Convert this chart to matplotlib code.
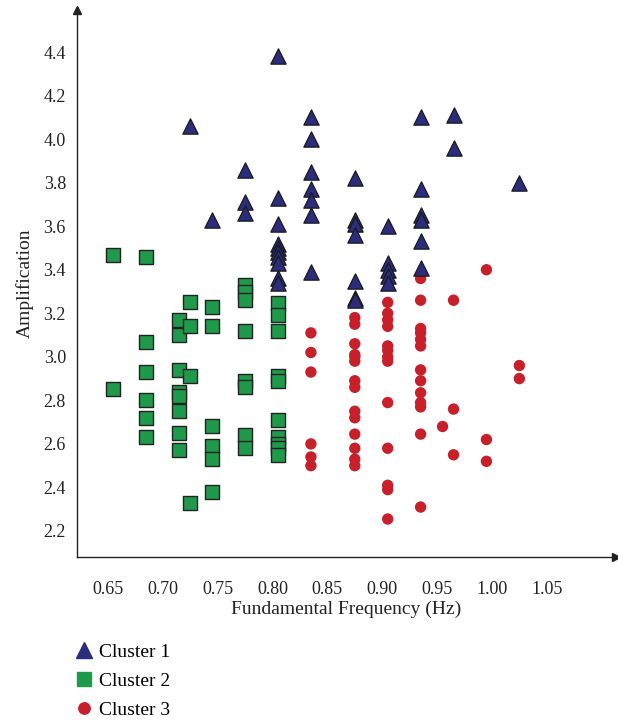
import numpy as np
import matplotlib
matplotlib.use("Agg")
import matplotlib.pyplot as plt
from matplotlib.lines import Line2D

plt.rcParams["font.family"] = ["Liberation Serif", "DejaVu Serif"]

# Cluster 1 (triangles)
c1_freq = [0.725, 0.745,
           0.775, 0.775, 0.775,
           0.805, 0.805, 0.805, 0.805, 0.805, 0.805, 0.805, 0.805, 0.805, 0.805,
           0.835, 0.835, 0.835, 0.835, 0.835, 0.835, 0.835,
           0.875, 0.875, 0.875, 0.875, 0.875, 0.875, 0.875,
           0.905, 0.905, 0.905, 0.905, 0.905,
           0.935, 0.935, 0.935, 0.935, 0.935, 0.935,
           0.965, 0.965,
           1.025]
c1_amp = [4.06, 3.63,
          3.86, 3.71, 3.66,
          4.38, 3.73, 3.61, 3.52, 3.50, 3.48, 3.46, 3.43, 3.36, 3.34,
          4.10, 4.00, 3.85, 3.77, 3.72, 3.65, 3.39,
          3.82, 3.63, 3.61, 3.56, 3.35, 3.27, 3.26,
          3.60, 3.43, 3.40, 3.37, 3.34,
          4.10, 3.77, 3.65, 3.63, 3.53, 3.41,
          4.11, 3.96,
          3.80]

# Cluster 2 (squares)
c2_freq = [0.655, 0.655,
           0.685, 0.685, 0.685, 0.685, 0.685, 0.685,
           0.715, 0.715, 0.715, 0.715, 0.715, 0.715, 0.715, 0.715,
           0.725, 0.725, 0.725, 0.725,
           0.745, 0.745, 0.745, 0.745, 0.745, 0.745,
           0.775, 0.775, 0.775, 0.775, 0.775, 0.775, 0.775, 0.775,
           0.805, 0.805, 0.805, 0.805, 0.805, 0.805, 0.805, 0.805, 0.805, 0.805]
c2_amp = [3.47, 2.85,
          3.46, 3.07, 2.93, 2.80, 2.72, 2.63,
          3.17, 3.10, 2.94, 2.84, 2.82, 2.75, 2.65, 2.57,
          3.25, 3.14, 2.91, 2.33,
          3.23, 3.14, 2.68, 2.59, 2.53, 2.38,
          3.33, 3.30, 3.26, 3.12, 2.89, 2.86, 2.64, 2.58,
          3.245, 3.19, 3.12, 2.91, 2.89, 2.71, 2.63, 2.60, 2.58, 2.55]

# Cluster 3 (circles)
c3_freq = [0.835] * 6 + [0.875] * 14 + [0.905] * 13 + [0.935] * 13 + [0.955] \
          + [0.965] * 3 + [0.995] * 3 + [1.025] * 2
c3_amp = [3.11, 3.02, 2.93, 2.60, 2.54, 2.50,
          3.18, 3.15, 3.06, 3.01, 3.00, 2.98, 2.89, 2.86, 2.75, 2.72, 2.645, 2.58, 2.53, 2.50,
          3.25, 3.20, 3.17, 3.14, 3.05, 3.03, 3.00, 2.98, 2.79, 2.58, 2.41, 2.39, 2.255,
          3.36, 3.26, 3.13, 3.11, 3.08, 3.05, 2.94, 2.89, 2.835, 2.79, 2.77, 2.645, 2.31,
          2.68,
          3.26, 2.76, 2.55,
          3.40, 2.62, 2.52,
          2.96, 2.90]

x_ticks = [0.65, 0.70, 0.75, 0.80, 0.85, 0.90, 0.95, 1.00, 1.05]
y_ticks = [2.2, 2.4, 2.6, 2.8, 3.0, 3.2, 3.4, 3.6, 3.8, 4.0, 4.2, 4.4]

blue = "#2b2c7c"
green = "#1f9a4a"
red = "#c8202a"

fig = plt.figure(figsize=(6.18, 7.2), dpi=100)
ax = fig.add_axes([0.1246, 0.2264, 0.872, 0.7597])

ax.scatter(c2_freq, c2_amp, marker="s", s=9.5 ** 2, color=green,
           edgecolors="#222222", linewidths=1.0, zorder=3)
ax.scatter(c1_freq, c1_amp, marker="^", s=11 ** 2, color=blue,
           edgecolors="#1a1a1a", linewidths=0.9, zorder=4)
ax.scatter(c3_freq, c3_amp, marker="o", s=8.2 ** 2, color=red,
           edgecolors="none", zorder=3)

ax.set_xlim(0.6218, 1.113)
ax.set_ylim(2.0806, 4.593)
ax.set_xticks(x_ticks)
ax.set_xticklabels(["%.2f" % t for t in x_ticks])
ax.set_yticks(y_ticks)
ax.set_yticklabels(["%.1f" % t for t in y_ticks])
ax.tick_params(axis="both", length=0, labelsize=13, colors="#222222")
ax.tick_params(axis="x", pad=17.5)
ax.tick_params(axis="y", pad=8)

for side in ["top", "right"]:
    ax.spines[side].set_visible(False)
for side in ["left", "bottom"]:
    ax.spines[side].set_linewidth(1.0)
    ax.spines[side].set_color("#222222")

# arrow heads on the axes
ax.plot(0, 1, marker="^", color="#222222", markersize=6,
        transform=ax.transAxes, clip_on=False)
ax.plot(1, 0, marker=">", color="#222222", markersize=6,
        transform=ax.transAxes, clip_on=False)

ax.set_xlabel("Fundamental Frequency (Hz)", fontsize=14, color="#222222", labelpad=1.5)
ax.set_ylabel("Amplification", fontsize=14, color="#222222", labelpad=7)

handles = [
    Line2D([], [], marker="^", linestyle="none", color=blue, markersize=11),
    Line2D([], [], marker="s", linestyle="none", color=green, markersize=9.5),
    Line2D([], [], marker="o", linestyle="none", color=red, markersize=8.2),
]
fig.legend(handles, ["Cluster 1", "Cluster 2", "Cluster 3"],
           loc="upper left", bbox_to_anchor=(0.121, 0.107), frameon=False,
           fontsize=14, handlelength=0.95, handletextpad=0.3,
           labelspacing=0.6, borderaxespad=0, borderpad=0)

fig.savefig("out.png", dpi=100)
